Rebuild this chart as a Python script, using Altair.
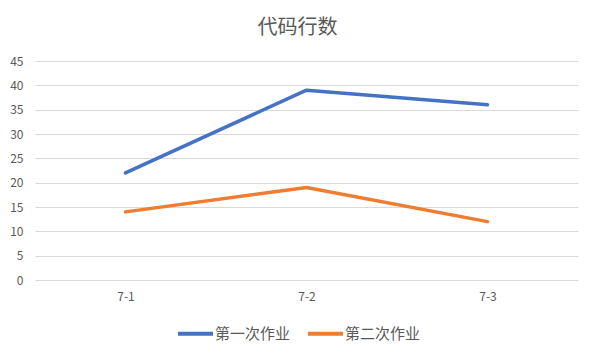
import altair as alt
import pandas as pd

categories = ["7-1", "7-2", "7-3"]
series_names = ["第一次作业", "第二次作业"]
first_values = [22, 39, 36]
second_values = [14, 19, 12]

rows = []
for c, v in zip(categories, first_values):
    rows.append({"cat": c, "series": series_names[0], "value": v})
for c, v in zip(categories, second_values):
    rows.append({"cat": c, "series": series_names[1], "value": v})
df = pd.DataFrame(rows)

font = "Noto Sans CJK SC"

chart = alt.Chart(df).mark_line(strokeWidth=3.5, strokeCap="round", strokeJoin="round").encode(
    x=alt.X("cat:N", sort=categories, title=None,
            scale=alt.Scale(paddingInner=0, paddingOuter=0, align=0.5),
            axis=alt.Axis(labelAngle=0, ticks=False, domain=False, grid=False,
                          labelPadding=11, labelColor="#595959", labelFontSize=12, labelFont=font)),
    y=alt.Y("value:Q", title=None,
            scale=alt.Scale(domain=[0, 45]),
            axis=alt.Axis(values=list(range(0, 50, 5)), ticks=False, domain=False,
                          gridColor="#d9d9d9", gridWidth=1, labelPadding=12,
                          labelColor="#595959", labelFontSize=12, labelFont=font)),
    color=alt.Color("series:N", sort=series_names,
                    scale=alt.Scale(domain=series_names, range=["#4472C4", "#ED7D31"]),
                    legend=alt.Legend(title=None, orient="none", direction="horizontal",
                                      legendX=141, legendY=253,
                                      symbolType="stroke", symbolSize=1225, symbolStrokeWidth=4,
                                      labelFont=font, labelFontSize=15, labelColor="#595959",
                                      labelOffset=0, columnPadding=9)),
).properties(
    width=543, height=219,
    title=alt.TitleParams("代码行数", font=font, fontSize=20, fontWeight="normal",
                          color="#595959", anchor="middle", dx=-9, offset=17),
    padding={"left": 35, "top": 61, "right": 17, "bottom": 76},
    autosize=alt.AutoSizeParams(type="none"),
).configure_view(stroke=None)

chart.save("out.html", embed_options={"renderer": "svg", "actions": False})
